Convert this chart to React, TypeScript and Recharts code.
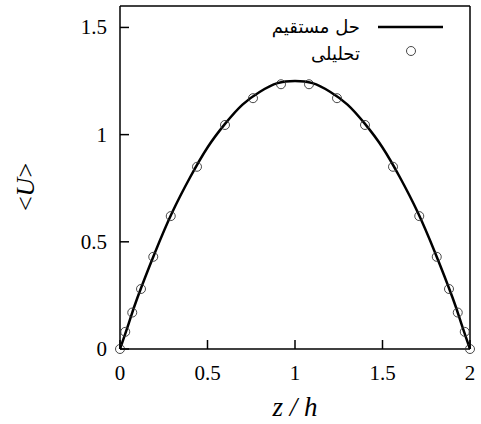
import { ComposedChart, Line, Scatter, XAxis, YAxis, Legend, Label } from "recharts";

// analytical solution points (circles)
const pointZ = [0, 0.03, 0.07, 0.12, 0.19, 0.29, 0.44, 0.6, 0.76, 0.92, 1.08, 1.24, 1.4, 1.56, 1.71, 1.81, 1.88, 1.93, 1.97, 2];
const pointU = [0, 0.08, 0.17, 0.28, 0.43, 0.62, 0.85, 1.045, 1.17, 1.235, 1.235, 1.17, 1.045, 0.85, 0.62, 0.43, 0.28, 0.17, 0.08, 0];

// direct solution (solid line)
const lineZ = [0, 0.05, 0.1, 0.2, 0.3, 0.4, 0.5, 0.6, 0.7, 0.8, 0.9, 1, 1.1, 1.2, 1.3, 1.4, 1.5, 1.6, 1.7, 1.8, 1.9, 1.95, 2];
const lineU = [0, 0.12, 0.24, 0.45, 0.64, 0.8, 0.94, 1.05, 1.14, 1.2, 1.24, 1.25, 1.24, 1.2, 1.14, 1.05, 0.94, 0.8, 0.64, 0.45, 0.24, 0.12, 0];

const xTicks = [0, 0.5, 1, 1.5, 2];
const yTicks = [0, 0.5, 1, 1.5];

const FONT = "Liberation Serif, DejaVu Serif, serif";
const TICK_LEN = 9;

const points = pointZ.map((z, i) => ({ z, u: pointU[i] }));
const lineData = lineZ.map((z, i) => ({ z, u: lineU[i] }));

const BottomTick = (props: any) => {
  const { x, y, payload } = props;
  return (
    <g>
      <line x1={x} y1={y} x2={x} y2={y - TICK_LEN} stroke="#000" strokeWidth={1.5} />
      <text x={x} y={y + 31} textAnchor="middle" style={{ fontFamily: FONT, fontSize: 21 }} fill="#000">
        {payload.value}
      </text>
    </g>
  );
};

const TopTick = (props: any) => {
  const { x, y } = props;
  return <line x1={x} y1={y} x2={x} y2={y + TICK_LEN} stroke="#000" strokeWidth={1.5} />;
};

const LeftTick = (props: any) => {
  const { x, y, payload } = props;
  return (
    <g>
      <line x1={x} y1={y} x2={x + TICK_LEN} y2={y} stroke="#000" strokeWidth={1.5} />
      <text x={x - 13} y={y + 7} textAnchor="end" style={{ fontFamily: FONT, fontSize: 21 }} fill="#000">
        {payload.value}
      </text>
    </g>
  );
};

const RightTick = (props: any) => {
  const { x, y } = props;
  return <line x1={x} y1={y} x2={x - TICK_LEN} y2={y} stroke="#000" strokeWidth={1.5} />;
};

const Circle = (props: any) => {
  const { cx, cy } = props;
  return <circle cx={cx} cy={cy} r={4.5} fill="none" stroke="#333" strokeWidth={0.9} />;
};

const renderLegend = () => (
  <svg width={210} height={60} style={{ overflow: "visible" }}>
    <text x={100} y={23} textAnchor="end" style={{ fontFamily: "DejaVu Sans, sans-serif", fontSize: 18 }} fill="#000">
      حل مستقیم
    </text>
    <line x1={118} y1={17} x2={183} y2={17} stroke="#000" strokeWidth={2.5} />
    <text x={100} y={50} textAnchor="end" style={{ fontFamily: "DejaVu Sans, sans-serif", fontSize: 18 }} fill="#000">
      تحلیلی
    </text>
    <circle cx={151} cy={41} r={4.5} fill="none" stroke="#333" strokeWidth={0.9} />
  </svg>
);

export default function App() {
  return (
    <div style={{ position: "absolute", left: 0, top: 0, background: "#fff" }}>
      <ComposedChart width={481} height={424} margin={{ top: 0, right: 0, bottom: 0, left: 0 }}>
        <XAxis
          xAxisId="bottom"
          dataKey="z"
          type="number"
          domain={[0, 2]}
          ticks={xTicks}
          height={75}
          tickSize={0}
          tickMargin={0}
          tick={BottomTick}
          axisLine={{ stroke: "#000", strokeWidth: 1.5 }}
          allowDuplicatedCategory={false}
        >
          <Label
            content={() => (
              <text x={295} y={416} textAnchor="middle" style={{ fontFamily: FONT, fontSize: 27, fontStyle: "italic" }} fill="#000">
                z / h
              </text>
            )}
          />
        </XAxis>
        <XAxis
          xAxisId="top"
          orientation="top"
          type="number"
          domain={[0, 2]}
          ticks={xTicks}
          height={6}
          tickSize={0}
          tickMargin={0}
          tick={TopTick}
          axisLine={{ stroke: "#000", strokeWidth: 1.5 }}
        />
        <YAxis
          yAxisId="left"
          type="number"
          domain={[0, 1.6]}
          ticks={yTicks}
          width={120}
          tickSize={0}
          tickMargin={0}
          tick={LeftTick}
          axisLine={{ stroke: "#000", strokeWidth: 1.5 }}
        >
          <Label
            content={() => (
              <text
                x={0}
                y={0}
                transform="translate(34,187) rotate(-90)"
                textAnchor="middle"
                style={{ fontFamily: FONT, fontSize: 26 }}
                fill="#000"
              >
                {"<"}
                <tspan fontStyle="italic">U</tspan>
                {">"}
              </text>
            )}
          />
        </YAxis>
        <YAxis
          yAxisId="right"
          orientation="right"
          type="number"
          domain={[0, 1.6]}
          ticks={yTicks}
          width={11}
          tickSize={0}
          tickMargin={0}
          tick={RightTick}
          axisLine={{ stroke: "#000", strokeWidth: 1.5 }}
        />
        <Legend
          layout="vertical"
          align="center"
          verticalAlign="middle"
          content={renderLegend}
          wrapperStyle={{ left: 260, top: 10, width: 210, height: 60 }}
        />
        <Line
          xAxisId="bottom"
          yAxisId="left"
          data={lineData}
          dataKey="u"
          type="natural"
          stroke="#000"
          strokeWidth={2.5}
          dot={false}
          activeDot={false}
          isAnimationActive={false}
        />
        <Scatter
          xAxisId="bottom"
          yAxisId="left"
          data={points}
          dataKey="u"
          shape={Circle}
          isAnimationActive={false}
        />
      </ComposedChart>
    </div>
  );
}
